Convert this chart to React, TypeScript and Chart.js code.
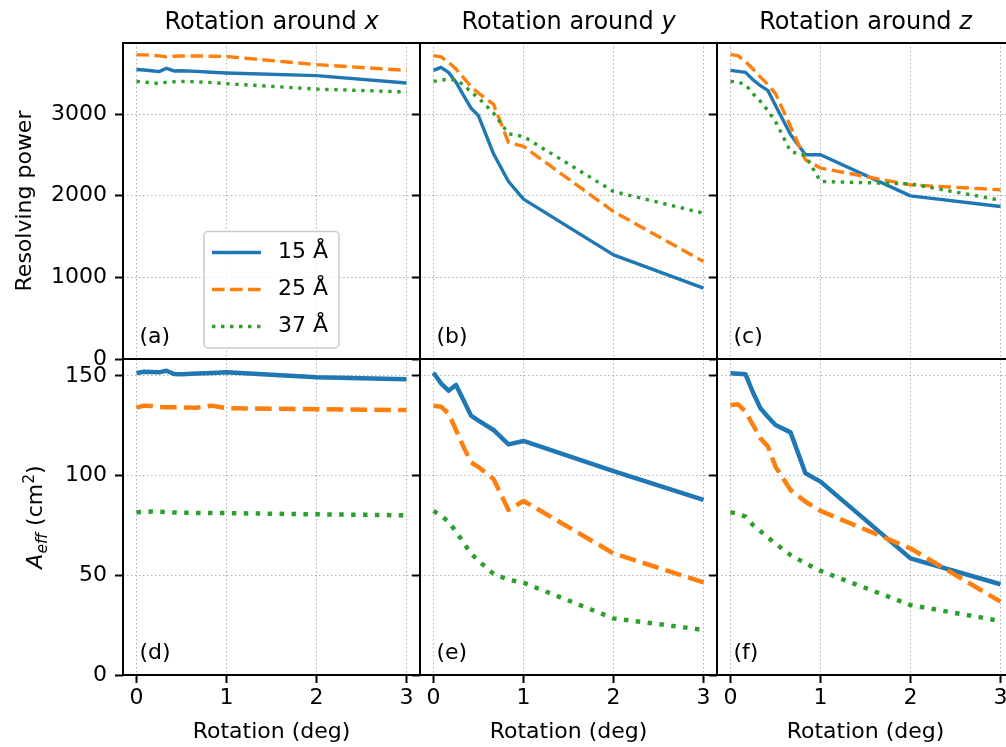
import React, { useEffect, useRef } from 'react';
import { Chart, registerables } from 'chart.js';

Chart.register(...registerables);

// ---------- data ----------
const ROT = [0, 0.083, 0.167, 0.25, 0.333, 0.417, 0.5, 0.667, 0.833, 1, 2, 3];
const X_TICKS = [0, 1, 2, 3];
const RP_TICKS = [0, 1000, 2000, 3000];
const AEFF_TICKS = [0, 50, 100, 150];
const WAVELENGTHS = ['15 Å', '25 Å', '37 Å'];
const AXIS_NAMES = ['x', 'y', 'z'];
const PANEL_LETTERS = ['(a)', '(b)', '(c)', '(d)', '(e)', '(f)'];

const RP_X_15 = [3545, 3540, 3530, 3520, 3560, 3528, 3530, 3522, 3512, 3503, 3470, 3380];
const RP_X_25 = [3725, 3725, 3720, 3712, 3700, 3708, 3710, 3712, 3708, 3705, 3605, 3535];
const RP_X_37 = [3400, 3390, 3385, 3372, 3390, 3395, 3400, 3395, 3385, 3372, 3306, 3270];

const RP_Y_15 = [3535, 3572, 3510, 3390, 3230, 3073, 2979, 2513, 2174, 1958, 1275, 867];
const RP_Y_25 = [3715, 3700, 3636, 3551, 3445, 3335, 3257, 3120, 2652, 2603, 1806, 1193];
const RP_Y_37 = [3400, 3415, 3428, 3415, 3360, 3270, 3196, 3012, 2758, 2725, 2051, 1786];

const RP_Z_15 = [3535, 3523, 3510, 3420, 3347, 3286, 3105, 2750, 2501, 2501, 1998, 1867];
const RP_Z_25 = [3727, 3715, 3641, 3551, 3452, 3359, 3250, 2848, 2440, 2338, 2133, 2072];
const RP_Z_37 = [3400, 3392, 3359, 3249, 3155, 3040, 2909, 2542, 2489, 2174, 2145, 1945];

const AEFF_X_15 = [151.5, 152.1, 152, 151.8, 152.6, 151, 150.8, 151.2, 151.5, 151.8, 149.3, 148.3];
const AEFF_X_25 = [134.1, 135.1, 134.9, 134.5, 134.3, 134.3, 134.2, 134.1, 135.1, 133.8, 133.3, 132.9];
const AEFF_X_37 = [81.6, 81.8, 82, 81.9, 81.7, 81.5, 81.4, 81.3, 81.3, 81.2, 80.6, 80.1];

const AEFF_Y_15 = [151.6, 146.3, 142.6, 145.5, 137.9, 130.1, 127.6, 122.9, 115.7, 117.4, 102.3, 87.8];
const AEFF_Y_25 = [135.1, 134.6, 131.2, 122.9, 114.5, 106.7, 104.3, 98.3, 82.8, 87.3, 61, 46.5];
const AEFF_Y_37 = [82.3, 79.9, 76.9, 71.9, 66.5, 60.9, 57.3, 50.7, 47.8, 46.3, 28.4, 22.6];

const AEFF_Z_15 = [151.3, 151.1, 150.8, 141.7, 133.8, 129.4, 125.4, 121.7, 101.2, 97, 58.5, 45.5];
const AEFF_Z_25 = [135.4, 135.8, 132.1, 125.4, 118.7, 114.5, 104.5, 92.8, 86.9, 82.3, 63.5, 36.8];
const AEFF_Z_37 = [81.6, 80.9, 79.4, 75.2, 72.1, 68.9, 65.9, 60.2, 56, 52.2, 35.1, 27.1];

const RP = [
  [RP_X_15, RP_X_25, RP_X_37],
  [RP_Y_15, RP_Y_25, RP_Y_37],
  [RP_Z_15, RP_Z_25, RP_Z_37],
];
const AEFF = [
  [AEFF_X_15, AEFF_X_25, AEFF_X_37],
  [AEFF_Y_15, AEFF_Y_25, AEFF_Y_37],
  [AEFF_Z_15, AEFF_Z_25, AEFF_Z_37],
];

// ---------- layout / style ----------
const COLORS = ['#1f77b4', '#ff7f0e', '#2ca02c'];
const CANVAS_W = 1100;
const CANVAS_H = 747;
const PANEL_LEFT = [123, 420, 717];
const PANEL_W = 297;
const ROW_TOP = [43, 359];
const ROW_BOTTOM = [359, 675];
const WY = 80;
const FONT = '"DejaVu Sans"';

Chart.defaults.font.family = FONT;
Chart.defaults.color = '#000';

function dashFor(k: number, lw: number): number[] {
  if (k === 1) return [3.7 * lw, 1.6 * lw];
  if (k === 2) return [lw, 1.65 * lw];
  return [];
}

function drawTitle(ctx: CanvasRenderingContext2D, a: any, c: number) {
  const normal = 'Rotation around ';
  const ital = AXIS_NAMES[c];
  ctx.font = `24px ${FONT}`;
  const w1 = ctx.measureText(normal).width;
  ctx.font = `italic 24px ${FONT}`;
  const w2 = ctx.measureText(ital).width;
  const cx = (a.left + a.right) / 2;
  const x0 = cx - (w1 + w2) / 2;
  const y = a.top - 14;
  ctx.textAlign = 'left';
  ctx.textBaseline = 'alphabetic';
  ctx.font = `24px ${FONT}`;
  ctx.fillText(normal, x0, y);
  ctx.font = `italic 24px ${FONT}`;
  ctx.fillText(ital, x0 + w1, y);
}

function drawYLabel(ctx: CanvasRenderingContext2D, a: any, r: number) {
  const cy = (a.top + a.bottom) / 2;
  ctx.save();
  ctx.textBaseline = 'alphabetic';
  ctx.textAlign = 'left';
  if (r === 0) {
    ctx.translate(31, cy);
    ctx.rotate(-Math.PI / 2);
    ctx.font = `22px ${FONT}`;
    const w = ctx.measureText('Resolving power').width;
    ctx.fillText('Resolving power', -w / 2, 0);
  } else {
    ctx.translate(42, cy);
    ctx.rotate(-Math.PI / 2);
    const parts = [
      { t: 'A', f: `italic 22px ${FONT}`, dy: 0 },
      { t: 'eff', f: `italic 15.5px ${FONT}`, dy: 4.5 },
      { t: ' (cm', f: `22px ${FONT}`, dy: 0 },
      { t: '2', f: `15.5px ${FONT}`, dy: -8.5 },
      { t: ')', f: `22px ${FONT}`, dy: 0 },
    ];
    let total = 0;
    const widths = parts.map((p) => {
      ctx.font = p.f;
      const w = ctx.measureText(p.t).width;
      total += w;
      return w;
    });
    let x = -total / 2;
    parts.forEach((p, i) => {
      ctx.font = p.f;
      ctx.fillText(p.t, x, p.dy);
      x += widths[i];
    });
  }
  ctx.restore();
}

function drawLegend(ctx: CanvasRenderingContext2D, a: any) {
  const bx = a.left + 81;
  const by = a.top + 188.5;
  ctx.save();
  ctx.beginPath();
  (ctx as any).roundRect(bx, by, 135, 116.5, 4);
  ctx.fillStyle = 'rgba(255,255,255,0.8)';
  ctx.fill();
  ctx.strokeStyle = '#cccccc';
  ctx.lineWidth = 1.5;
  ctx.stroke();
  for (let k = 0; k < 3; k++) {
    const y = by + 21 + k * 37;
    ctx.strokeStyle = COLORS[k];
    ctx.lineWidth = 3.4;
    ctx.lineCap = 'butt';
    ctx.setLineDash(dashFor(k, 3.4));
    ctx.beginPath();
    ctx.moveTo(bx + 8, y);
    ctx.lineTo(bx + 57, y);
    ctx.stroke();
    ctx.setLineDash([]);
    ctx.fillStyle = '#000';
    ctx.font = `22px ${FONT}`;
    ctx.textAlign = 'left';
    ctx.textBaseline = 'middle';
    ctx.fillText(WAVELENGTHS[k], bx + 74, y);
  }
  ctx.restore();
}

function makeOverlay(r: number, c: number) {
  return {
    id: `overlay_${r}_${c}`,
    afterDraw(chart: any) {
      const ctx: CanvasRenderingContext2D = chart.ctx;
      const a = chart.chartArea;
      ctx.save();
      ctx.setLineDash([]);
      ctx.strokeStyle = '#000';
      ctx.lineWidth = 2;
      ctx.strokeRect(a.left, a.top, a.right - a.left, a.bottom - a.top);
      ctx.fillStyle = '#000';
      ctx.font = `22px ${FONT}`;
      ctx.textAlign = 'left';
      ctx.textBaseline = 'alphabetic';
      ctx.fillText(PANEL_LETTERS[r * 3 + c], a.left + 16.5, a.bottom - 16);
      if (r === 0) drawTitle(ctx, a, c);
      if (c === 0) drawYLabel(ctx, a, r);
      if (r === 0 && c === 0) drawLegend(ctx, a);
      ctx.restore();
    },
  };
}

function makeConfig(r: number, c: number): any {
  const top = r === 0;
  const lw = top ? 3.4 : 4.5;
  const series = top ? RP[c] : AEFF[c];
  const HX = top ? 0 : 72;
  const datasets = series.map((vals, k) => ({
    label: WAVELENGTHS[k],
    data: ROT.map((x, i) => ({ x, y: vals[i] })),
    borderColor: COLORS[k],
    backgroundColor: COLORS[k],
    borderWidth: lw,
    borderDash: dashFor(k, lw),
    borderCapStyle: 'butt',
    borderJoinStyle: 'round',
    pointRadius: 0,
    pointHoverRadius: 0,
    tension: 0,
    fill: false,
    order: 2 - k,
  }));
  const gridBase = {
    color: '#b0b0b0',
    lineWidth: 1,
    tickLength: 8,
    tickColor: '#000',
    tickWidth: 2,
  };
  return {
    type: 'line',
    data: { datasets },
    options: {
      animation: false,
      responsive: false,
      devicePixelRatio: 1,
      events: [],
      layout: {
        padding: {
          left: PANEL_LEFT[c] - WY,
          right: CANVAS_W - PANEL_LEFT[c] - PANEL_W,
          top: ROW_TOP[r],
          bottom: CANVAS_H - ROW_BOTTOM[r] - HX,
        },
      },
      plugins: {
        legend: { display: false },
        tooltip: { enabled: false },
        title: { display: false },
      },
      scales: {
        x: {
          type: 'linear',
          position: 'bottom',
          min: -0.15,
          max: 3.15,
          afterBuildTicks: (ax: any) => {
            ax.ticks = X_TICKS.map((v) => ({ value: v }));
          },
          afterFit: (ax: any) => {
            ax.height = HX;
          },
          grid: { ...gridBase, drawTicks: !top },
          border: { display: false, dash: [1.5, 2.5] },
          ticks: {
            display: !top,
            color: '#000',
            font: { size: 22, family: FONT },
            padding: 2,
            maxRotation: 0,
            autoSkip: false,
            callback: (v: any) => String(v),
          },
          title: {
            display: !top,
            text: 'Rotation (deg)',
            color: '#000',
            font: { size: 22, family: FONT },
            padding: { top: 0, bottom: 2 },
          },
        },
        y: {
          type: 'linear',
          position: 'left',
          min: 0,
          max: top ? 3870 : 158.5,
          afterBuildTicks: (ax: any) => {
            ax.ticks = (top ? RP_TICKS : AEFF_TICKS).map((v) => ({ value: v }));
          },
          afterFit: (ax: any) => {
            ax.width = WY;
          },
          grid: { ...gridBase, drawTicks: true },
          border: { display: false, dash: [1.5, 2.5] },
          ticks: {
            display: c === 0,
            color: '#000',
            font: { size: 22, family: FONT },
            padding: 8,
            autoSkip: false,
            callback: (v: any) => String(v),
          },
        },
      },
    },
    plugins: [makeOverlay(r, c)],
  };
}

export default function App() {
  const refs = useRef<(HTMLCanvasElement | null)[]>([]);
  useEffect(() => {
    const charts: Chart[] = [];
    for (let r = 0; r < 2; r++) {
      for (let c = 0; c < 3; c++) {
        const el = refs.current[r * 3 + c];
        if (el) charts.push(new Chart(el, makeConfig(r, c)));
      }
    }
    return () => charts.forEach((ch) => ch.destroy());
  }, []);
  return (
    <div
      style={{
        position: 'fixed',
        left: 0,
        top: 0,
        width: 1006,
        height: 747,
        overflow: 'hidden',
        background: '#fff',
      }}
    >
      {[0, 1, 2, 3, 4, 5].map((i) => (
        <canvas
          key={i}
          ref={(el) => {
            refs.current[i] = el;
          }}
          width={CANVAS_W}
          height={CANVAS_H}
          style={{ position: 'absolute', left: 0, top: 0, width: CANVAS_W, height: CANVAS_H }}
        />
      ))}
    </div>
  );
}
